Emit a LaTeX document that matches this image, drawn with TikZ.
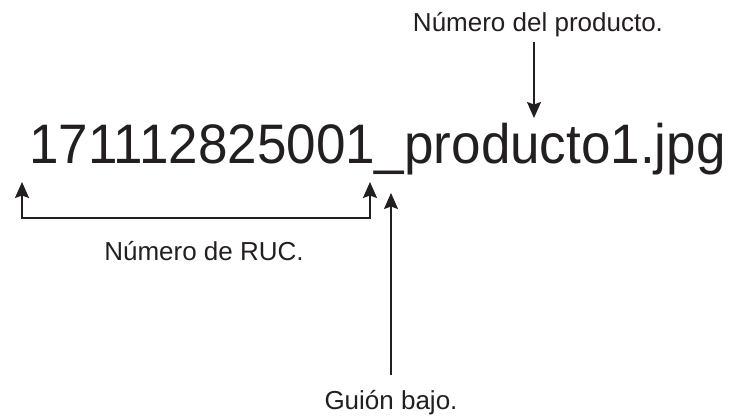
\documentclass[tikz,border=0pt]{standalone}
\usepackage{fontspec}
\setmainfont{Liberation Sans}
\usetikzlibrary{arrows.meta}
\definecolor{ink}{HTML}{231F20}
\begin{document}
\begin{tikzpicture}[x=1pt,y=-1pt,
  tip/.style={Stealth[length=16pt,width=14pt,inset=2.5pt]},
  lbl/.style={inner sep=0pt,anchor=base,text=ink,font=\fontsize{26}{30}\selectfont},
  big/.style={inner sep=0pt,anchor=base west,text=ink,yscale=1.05,font=\fontsize{53}{60}\selectfont},
  arr/.style={draw=ink,line width=1.6pt,-{Stealth[length=16pt,width=14pt,inset=2.5pt]}},
  arrb/.style={draw=ink,line width=1.8pt,{Stealth[length=16pt,width=14pt,inset=2.5pt]}-{Stealth[length=16pt,width=14pt,inset=2.5pt]}}]
\useasboundingbox (0,0) rectangle (729,416);
\node[big] (fn) at (29,163) {171112825001\_producto1.jpg};
\node[lbl] (prod) at (538,31) {Número del producto.};
\node[lbl] (ruc) at (204,260) {Número de RUC.};
\node[lbl] (gui) at (391,409) {Guión bajo.};
\coordinate (pa) at (534,42);
\coordinate (pb) at (534,118);
\coordinate (ra) at (22,182);
\coordinate (rb) at (370,182);
\coordinate (rh) at (0,218);
\coordinate (ua) at (391,375);
\coordinate (ub) at (391,193);
\draw[arr] (pa) -- (pb);
\draw[arrb] (ra) -- (ra |- rh) -- (rb |- rh) -- (rb);
\draw[arr] (ua) -- (ub);
\end{tikzpicture}
\end{document}
